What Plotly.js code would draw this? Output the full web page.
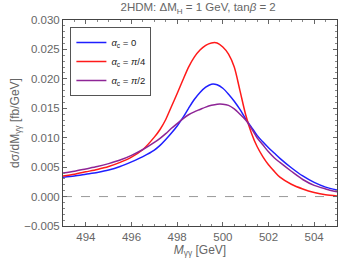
<!DOCTYPE html>
<html>
<head>
<meta charset="utf-8">
<script src="https://cdn.plot.ly/plotly-3.0.1.min.js"></script>
<style>html,body{margin:0;padding:0;background:#fff;}#chart{width:357px;height:266px;}</style>
</head>
<body>
<div id="chart"></div>
<script>
const mass = [493, 493.5, 494, 494.5, 495, 495.5, 496, 496.5, 497, 497.25, 497.5, 497.75, 498, 498.25, 498.5, 498.75, 499, 499.25, 499.5, 499.75, 500, 500.25, 500.5, 500.75, 501, 501.25, 501.5, 501.75, 502, 502.25, 502.5, 503, 503.5, 504, 504.5, 505];
const alpha0 = [0.0033, 0.0035, 0.0038, 0.0041, 0.0045, 0.0051, 0.0059, 0.0068, 0.0079, 0.0087, 0.0097, 0.0108, 0.0120, 0.0134, 0.0150, 0.0165, 0.0177, 0.0186, 0.0191, 0.0190, 0.0184, 0.0174, 0.0162, 0.0148, 0.0132, 0.0118, 0.0104, 0.0093, 0.0083, 0.0074, 0.0065, 0.0049, 0.0035, 0.0024, 0.0016, 0.0011];
const alphaPi4 = [0.0035, 0.0038, 0.0042, 0.0046, 0.0051, 0.0058, 0.0067, 0.0080, 0.0101, 0.0114, 0.0131, 0.0153, 0.0175, 0.0198, 0.0220, 0.0237, 0.0249, 0.0257, 0.0261, 0.0261, 0.0254, 0.0242, 0.0220, 0.0180, 0.0139, 0.0108, 0.0085, 0.0068, 0.0054, 0.0043, 0.0033, 0.0021, 0.0013, 0.0007, 0.0003, 0.0001];
const alphaPi2 = [0.0040, 0.0043, 0.0047, 0.0051, 0.0056, 0.0062, 0.0070, 0.0080, 0.0092, 0.0099, 0.0107, 0.0116, 0.0124, 0.0132, 0.0139, 0.0144, 0.0148, 0.0152, 0.0155, 0.0157, 0.0157, 0.0155, 0.0149, 0.0140, 0.0130, 0.0116, 0.0100, 0.0088, 0.0076, 0.0066, 0.0058, 0.0043, 0.0029, 0.0019, 0.0013, 0.0008];
const seriesNames = ['<i>α</i><sub>c</sub> = 0', '<i>α</i><sub>c</sub> = <i>π</i>/4', '<i>α</i><sub>c</sub> = <i>π</i>/2'];
const xTicks = [494, 496, 498, 500, 502, 504];
const yTicks = [-0.005, 0, 0.005, 0.010, 0.015, 0.020, 0.025, 0.030];

const colors = ['#1f1fff', '#ff1a1a', '#8e2596'];
const ys = [alpha0, alphaPi4, alphaPi2];
const traces = ys.map((y, i) => ({
  x: mass, y: y, type: 'scatter', mode: 'lines', name: seriesNames[i],
  line: {color: colors[i], width: 1.5, shape: 'spline', smoothing: 0.8}
}));

const FAM = 'Liberation Sans, Arial, sans-serif';
const font = {family: FAM, size: 11.5, color: '#666'};
const axisCommon = {
  showline: true, linecolor: '#444', linewidth: 1, mirror: 'allticks',
  ticks: 'inside', ticklen: 4, tickcolor: '#666', tickwidth: 1,
  showgrid: false, zeroline: false, tickfont: font
};
const layout = {
  width: 357, height: 266,
  margin: {l: 63, r: 20, t: 20, b: 40},
  paper_bgcolor: '#fff', plot_bgcolor: '#fff',
  font: font,
  title: {text: '2HDM: ΔM<sub>H</sub> = 1 GeV, tan<i>β</i> = 2', font: {family: FAM, size: 11.5, color: '#666'}, x: 0.555, xanchor: 'center', y: 0.972, yanchor: 'middle'},
  xaxis: Object.assign({}, axisCommon, {
    range: [493, 505], tickvals: xTicks, ticktext: xTicks.map(String),
    minor: {dtick: 0.5, tick0: 493, ticks: 'inside', ticklen: 2, tickcolor: '#888'},
    title: {text: '<i>M</i><sub>γγ</sub> [GeV]', font: {family: FAM, size: 12, color: '#666'}, standoff: 3}
  }),
  yaxis: Object.assign({}, axisCommon, {
    range: [-0.005, 0.030], tickvals: yTicks, ticktext: yTicks.map(v => (v < 0 ? '\u2212' : '') + Math.abs(v).toFixed(3)),
    minor: {dtick: 0.001, tick0: 0, ticks: 'inside', ticklen: 2, tickcolor: '#888'},
    title: {text: 'dσ/dM<sub>γγ</sub> [fb/GeV]', font: {family: FAM, size: 12, color: '#666'}, standoff: 2}
  }),
  showlegend: true,
  legend: {
    x: 0.027, y: 0.966, xanchor: 'left', yanchor: 'top',
    bgcolor: '#fff', bordercolor: '#555', borderwidth: 1,
    font: {family: FAM, size: 9.5, color: '#222'},
    tracegroupgap: 0, itemwidth: 30
  },
  shapes: [{
    type: 'line', xref: 'paper', x0: 0, x1: 1, yref: 'y', y0: 0, y1: 0,
    line: {color: '#999', width: 1, dash: 'dash'}, layer: 'below'
  }]
};
Plotly.newPlot('chart', traces, layout, {displayModeBar: false, staticPlot: true});
</script>
</body>
</html>
